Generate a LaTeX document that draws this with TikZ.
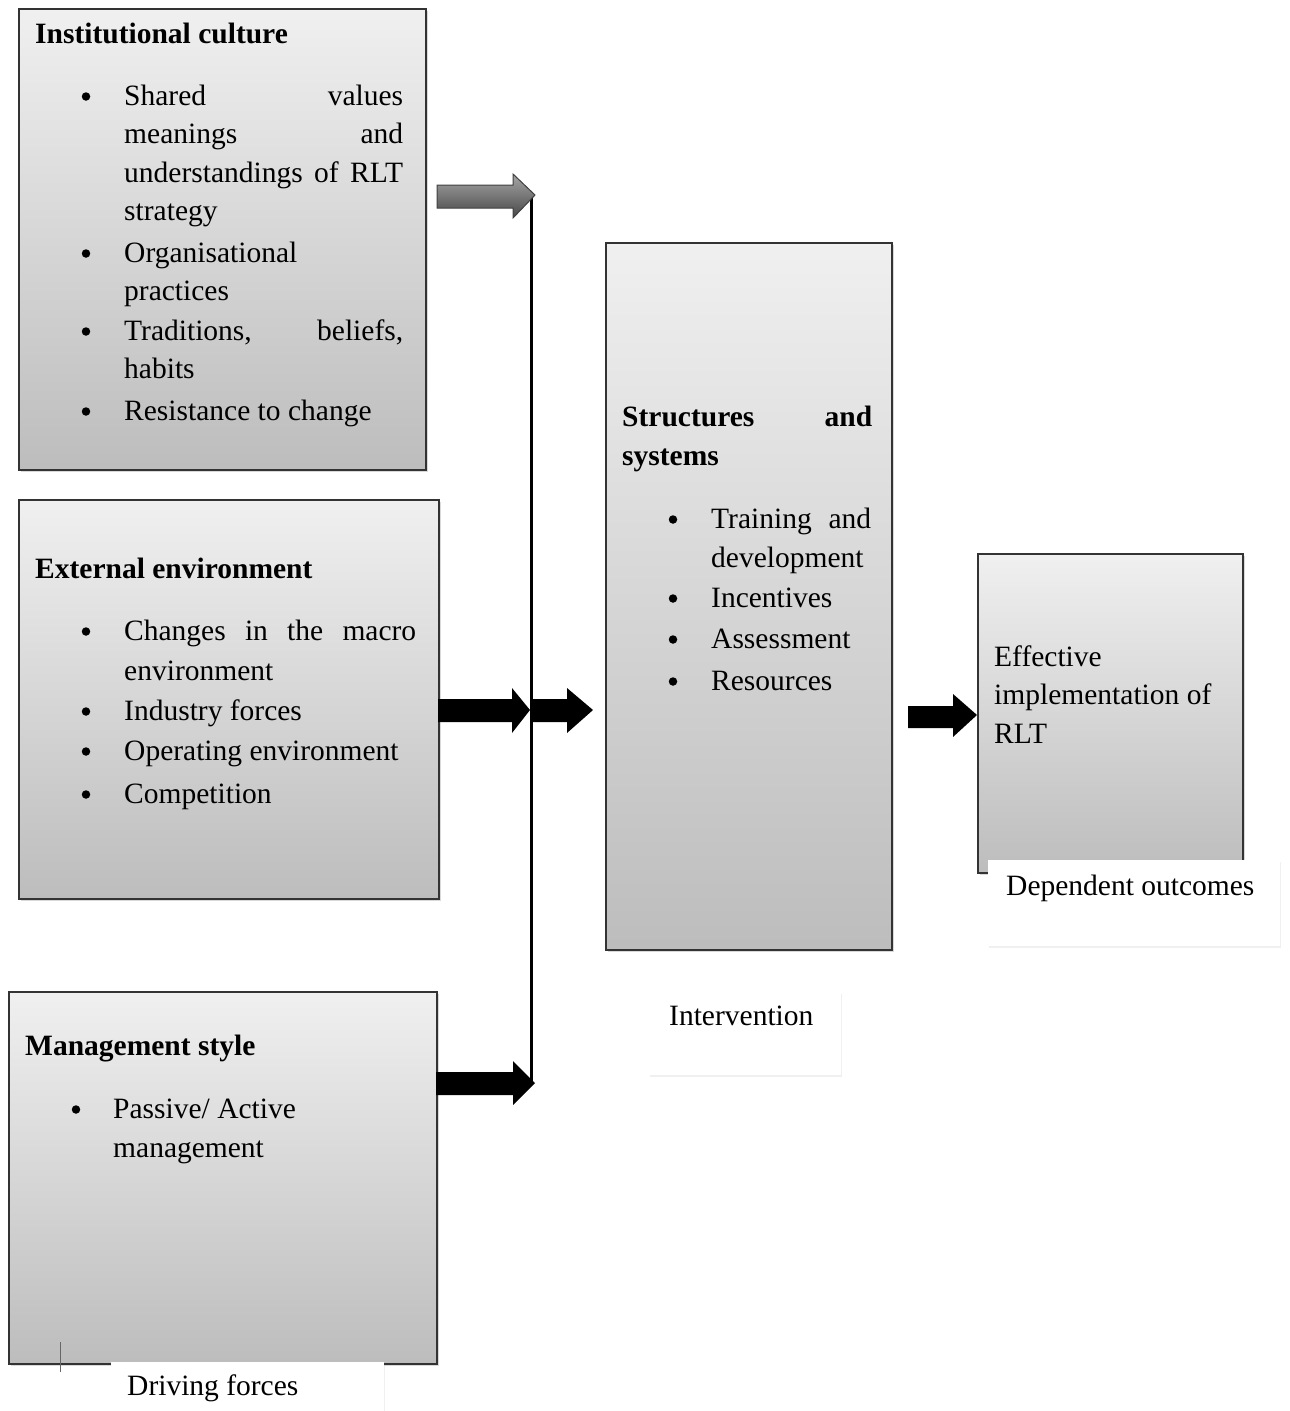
\documentclass[tikz,border=0pt]{standalone}
\usepackage{fontspec}
\setmainfont{Liberation Serif}
\usetikzlibrary{shadows}
\begin{document}
\begin{tikzpicture}[x=1pt,y=-1pt,
  font=\fontsize{29.5}{39.5}\selectfont,
  panel/.style={draw=black!80, line width=1.6pt, top color=black!6, bottom color=black!26,
    drop shadow={opacity=0.3, shadow xshift=2pt, shadow yshift=-2pt},
    anchor=north west, inner sep=0pt},
  capbox/.style={fill=white, draw=none, anchor=north west, inner sep=0pt,
    drop shadow={opacity=0.12, shadow xshift=1pt, shadow yshift=-2pt}},
  txt/.style={anchor=base west, inner sep=0pt},
  bul/.style={circle, fill=black, draw=none, minimum size=8.5pt, inner sep=0pt, yshift=8.5pt},
  blk/.style={fill=black, draw=none},
  grayarrow/.style={draw=black!75, line width=1pt, top color=black!35, bottom color=black!72},
  vline/.style={line width=3pt}
]
\useasboundingbox (0,0) rectangle (1290,1411);

% ---- panels ----
\node[panel, minimum width=407pt, minimum height=461pt] (b1) at (18,8) {};
\node[panel, minimum width=420pt, minimum height=399pt] (b2) at (18,499) {};
\node[panel, minimum width=428pt, minimum height=372pt] (b3) at (8,991) {};
\node[panel, minimum width=286pt, minimum height=707pt] (b4) at (605,242) {};
\node[panel, minimum width=265pt, minimum height=319pt] (b5) at (977,553) {};

% ---- box 1 text ----
\node[txt] (t1) at (35,43) {\textbf{Institutional culture}};
\node[bul] (t1b1) at (86,105) {};
\node[txt] (t1a) at (124,105) {\makebox[279pt][s]{Shared values}};
\node[txt] (t1b) at (124,143) {\makebox[279pt][s]{meanings and}};
\node[txt] (t1c) at (124,182) {\makebox[279pt][s]{understandings of RLT}};
\node[txt] (t1d) at (124,220) {strategy};
\node[bul] (t1b2) at (86,262) {};
\node[txt] (t1e) at (124,262) {Organisational};
\node[txt] (t1f) at (124,300) {practices};
\node[bul] (t1b3) at (86,340) {};
\node[txt] (t1g) at (124,340) {\makebox[279pt][s]{Traditions, beliefs,}};
\node[txt] (t1h) at (124,378) {habits};
\node[bul] (t1b4) at (86,420) {};
\node[txt] (t1i) at (124,420) {Resistance to change};

% ---- box 2 text ----
\node[txt] (t2) at (35,578) {\textbf{External environment}};
\node[bul] (t2b1) at (86,640) {};
\node[txt] (t2a) at (124,640) {\makebox[292pt][s]{Changes in the macro}};
\node[txt] (t2b) at (124,680) {environment};
\node[bul] (t2b2) at (86,720) {};
\node[txt] (t2c) at (124,720) {Industry forces};
\node[bul] (t2b3) at (86,760) {};
\node[txt] (t2d) at (124,760) {Operating environment};
\node[bul] (t2b4) at (86,803) {};
\node[txt] (t2e) at (124,803) {Competition};

% ---- box 3 text ----
\node[txt] (t3) at (25,1055) {\textbf{Management style}};
\node[bul] (t3b1) at (76,1118) {};
\node[txt] (t3a) at (113,1118) {Passive/ Active};
\node[txt] (t3b) at (113,1157) {management};

% ---- box 4 text ----
\node[txt] (t4) at (622,426) {\makebox[250pt][s]{\textbf{Structures and}}};
\node[txt] (t4a) at (622,465) {\textbf{systems}};
\node[bul] (t4b1) at (673,528) {};
\node[txt] (t4b) at (711,528) {\makebox[160pt][s]{Training and}};
\node[txt] (t4c) at (711,567) {development};
\node[bul] (t4b2) at (673,607) {};
\node[txt] (t4d) at (711,607) {Incentives};
\node[bul] (t4b3) at (673,648) {};
\node[txt] (t4e) at (711,648) {Assessment};
\node[bul] (t4b4) at (673,690) {};
\node[txt] (t4f) at (711,690) {Resources};

% ---- box 5 text ----
\node[txt] (t5a) at (994,666) {Effective};
\node[txt] (t5b) at (994,704) {implementation of};
\node[txt] (t5c) at (994,743) {RLT};

% ---- captions ----
\node[capbox, minimum width=273pt, minimum height=52pt] (c1) at (111,1362) {};
\node[txt] (c1t) at (127,1395) {Driving forces};
\node[capbox, minimum width=192pt, minimum height=83pt] (c2) at (649,992) {};
\node[txt] (c2t) at (669,1025) {Intervention};
\node[capbox, minimum width=292pt, minimum height=86pt] (c3) at (988,860) {};
\node[txt] (c3t) at (1006,895) {Dependent outcomes};

% ---- cursor tick ----
\coordinate (k1) at (60,1342);
\coordinate (k2) at (60,1372);
\draw[black!60, line width=1pt] (k1) -- (k2);

% ---- connector line ----
\coordinate (vtop) at (531,195);
\coordinate (vbot) at (531,1084);
\draw[vline] (vtop) -- (vbot);

% ---- arrows ----
\draw[grayarrow] (437,185) -- (513,185) -- (513,174) -- (535,195) -- (513,218) -- (513,208) -- (437,208) -- cycle;
\fill[blk] (438,699) -- (512,699) -- (512,688) -- (530,710) -- (512,733) -- (512,722) -- (438,722) -- cycle;
\fill[blk] (533,699) -- (567,699) -- (567,688) -- (593,710) -- (567,733) -- (567,722) -- (533,722) -- cycle;
\fill[blk] (436,1072) -- (513,1072) -- (513,1061) -- (535,1083) -- (513,1105) -- (513,1095) -- (436,1095) -- cycle;
\fill[blk] (908,706) -- (953,706) -- (953,694) -- (977,715) -- (953,737) -- (953,728) -- (908,728) -- cycle;
\end{tikzpicture}
\end{document}
